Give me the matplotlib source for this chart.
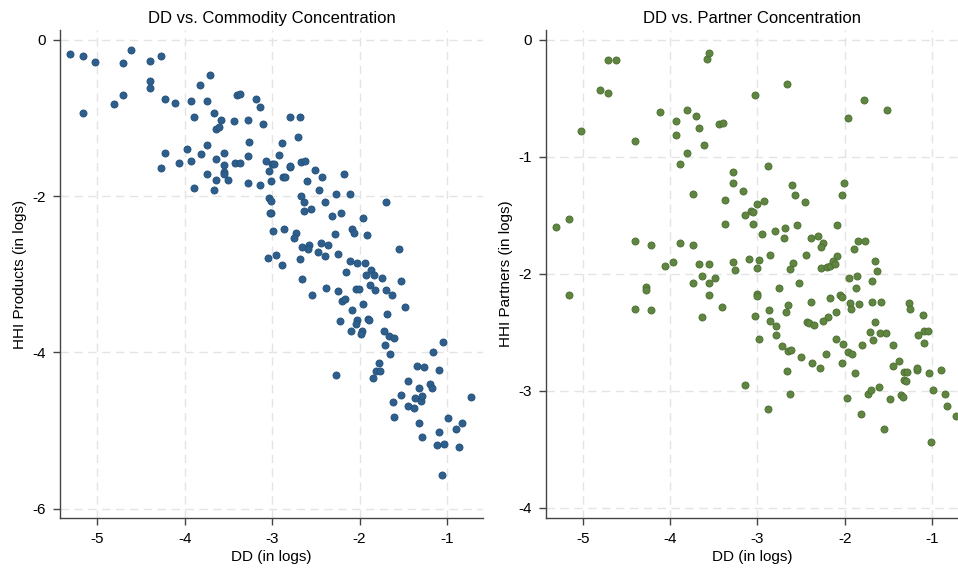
import matplotlib
matplotlib.use("Agg")
import matplotlib.pyplot as plt
import numpy as np

plt.rcParams['font.family'] = ['Liberation Sans', 'DejaVu Sans']
plt.rcParams['axes.unicode_minus'] = False

# left panel: DD vs HHI products
dd_prod = [-5.31, -5.16, -5.03, -4.71, -4.62, -4.40, -4.27, -5.16, -4.81, -4.71,
           -4.40, -4.40, -4.22, -4.11, -3.93, -3.74, -3.82, -3.71, -3.40, -3.37,
           -3.18, -3.14, -3.89, -3.67, -3.58, -3.44, -3.28, -3.10, -3.64, -3.61,
           -3.26, -3.74, -3.97, -4.22, -3.81, -3.55, -3.64, -3.28, -4.07, -3.93,
           -4.27, -3.55, -3.42, -3.37, -3.07, -3.00, -3.03, -3.55, -3.55, -3.74,
           -3.64, -3.50, -3.28, -3.14, -3.01, -3.89, -3.67, -3.03, -3.01,
           -2.79, -2.68, -2.70, -2.89, -2.92, -2.98, -2.80, -2.79, -2.67, -2.62,
           -2.51, -2.43, -2.18, -2.88, -2.85, -2.60, -2.46, -2.27, -2.11, -1.70,
           -2.67, -2.63, -2.39, -3.01, -3.02, -2.63, -2.55, -2.31, -2.21, -1.96,
           -2.99, -2.86, -2.73, -2.75, -2.28, -2.09, -2.06, -1.92, -2.66, -2.58,
           -2.59, -2.44, -2.36, -1.55, -3.05, -2.95, -2.89, -2.68, -2.47, -2.39,
           -2.25, -2.11, -2.03, -1.94, -2.15, -1.93, -1.87, -1.83, -1.74, -2.66,
           -1.52,
           -2.54, -2.38, -2.25, -2.20, -2.17, -2.04, -2.01, -1.88, -1.82, -1.70,
           -1.63, -1.96, -2.09, -1.48, -2.22, -2.03, -2.04, -1.90, -1.89, -1.68,
           -2.10, -1.97, -1.98, -1.72, -1.66, -1.60, -1.71, -1.65, -1.04, -1.16,
           -1.78, -1.81, -1.77, -1.85, -2.27, -1.34, -1.26, -1.09, -1.45, -1.32,
           -1.19, -1.17, -1.53, -1.36, -1.30, -1.28, -1.62, -1.45, -1.38, -0.72,
           -1.60, -0.99, -0.83, -0.90, -1.32, -1.09, -1.29, -1.11, -1.03, -0.86,
           -1.06]
hhi_prod = [-0.18, -0.21, -0.28, -0.29, -0.13, -0.27, -0.20, -0.93, -0.82, -0.70,
            -0.53, -0.62, -0.75, -0.81, -0.78, -0.78, -0.58, -0.45, -0.71, -0.69,
            -0.75, -0.86, -0.99, -0.94, -1.02, -1.04, -1.03, -1.08, -1.14, -1.12,
            -1.31, -1.34, -1.40, -1.45, -1.46, -1.45, -1.52, -1.49, -1.57, -1.55,
            -1.64, -1.60, -1.57, -1.57, -1.55, -1.59, -1.68, -1.69, -1.71, -1.72,
            -1.79, -1.79, -1.83, -1.86, -1.80, -1.89, -1.92, -2.02, -2.06,
            -0.99, -0.99, -1.24, -1.32, -1.47, -1.59, -1.63, -1.61, -1.56, -1.55,
            -1.66, -1.75, -1.72, -1.76, -1.76, -1.80, -1.92, -1.97, -1.97, -2.07,
            -2.00, -2.07, -2.07, -2.21, -2.22, -2.19, -2.17, -2.25, -2.21, -2.28,
            -2.45, -2.42, -2.47, -2.53, -2.49, -2.42, -2.47, -2.50, -2.65, -2.63,
            -2.67, -2.60, -2.62, -2.68, -2.79, -2.75, -2.88, -2.80, -2.72, -2.77,
            -2.74, -2.83, -2.86, -2.85, -2.97, -3.01, -2.95, -3.01, -3.05, -3.06,
            -3.08,
            -3.27, -3.18, -3.21, -3.34, -3.32, -3.19, -3.19, -3.14, -3.20, -3.20,
            -3.26, -3.38, -3.46, -3.42, -3.60, -3.58, -3.63, -3.57, -3.59, -3.51,
            -3.73, -3.72, -3.76, -3.73, -3.79, -3.81, -3.91, -4.02, -3.87, -4.00,
            -4.14, -4.24, -4.24, -4.33, -4.29, -4.18, -4.19, -4.23, -4.37, -4.45,
            -4.41, -4.46, -4.54, -4.59, -4.62, -4.56, -4.63, -4.69, -4.71, -4.57,
            -4.83, -4.84, -4.91, -4.98, -4.90, -5.02, -5.08, -5.19, -5.17, -5.21,
            -5.57]

# right panel: DD vs HHI partners
dd_part = [-5.31, -5.16, -5.02, -4.71, -4.62, -4.80, -4.71, -4.40, -4.11, -3.93,
           -3.93, -3.81, -3.70, -3.67, -3.61, -3.81, -3.89, -3.58, -3.55, -3.44,
           -3.39, -3.03, -3.28, -3.28, -3.17, -3.74, -3.37, -3.07, -3.05, -3.14,
           -3.37, -3.05,
           -2.66, -1.78, -1.52, -1.97, -2.88, -2.60, -2.57, -2.46, -2.01, -2.03,
           -3.01, -2.92,
           -4.40, -4.22, -3.89, -3.74, -4.06, -3.97, -3.67, -3.55, -3.28, -3.26,
           -3.10, -5.16, -4.27, -4.27, -4.40, -4.22, -3.74, -3.64, -3.55, -3.49,
           -3.55, -3.41, -3.64, -3.14,
           -2.95, -2.80, -2.68, -2.55, -2.09, -2.70, -2.39, -2.31, -2.25, -2.27,
           -1.85, -1.77, -1.90, -2.98, -2.86, -3.01, -2.59, -2.63, -2.45, -2.09,
           -2.27, -2.21, -2.17, -2.14, -2.11, -1.66, -1.63, -1.69, -1.95, -1.86,
           -1.87, -2.53, -2.75, -3.01, -3.01, -2.06, -2.03, -2.17, -2.39, -2.65,
           -2.87, -2.67, -3.03, -1.94, -1.93, -1.84, -1.69, -1.59, -1.27, -1.26,
           -1.11, -2.10, -2.19, -2.25, -2.43, -2.41, -2.35, -2.86, -2.79, -2.79,
           -2.98, -1.65, -1.71, -1.60, -1.53, -1.68, -1.80, -2.10, -2.02, -1.96,
           -1.92, -1.45, -1.16, -1.09, -1.05, -1.09, -2.72, -2.65, -2.62, -2.50,
           -2.22, -2.38, -2.28, -2.03, -1.89, -2.66, -1.38, -1.45, -1.32, -1.29,
           -1.18, -1.17, -1.04, -0.90, -1.32, -1.30, -2.63, -2.88, -1.98, -1.74,
           -1.70, -1.61, -1.48, -1.36, -1.34, -0.99, -0.85, -0.83, -0.73, -1.82,
           -1.55, -1.02]
hhi_part = [-1.60, -1.53, -0.78, -0.17, -0.17, -0.43, -0.45, -0.86, -0.62, -0.69,
            -0.81, -0.60, -0.65, -0.75, -0.90, -0.97, -1.06, -0.16, -0.11, -0.72,
            -0.71, -0.47, -1.13, -1.22, -1.29, -1.32, -1.37, -1.46, -1.47, -1.50,
            -1.57, -1.57,
            -0.38, -0.51, -0.60, -0.67, -1.08, -1.24, -1.33, -1.39, -1.22, -1.33,
            -1.40, -1.38,
            -1.72, -1.75, -1.74, -1.75, -1.93, -1.90, -1.92, -1.92, -1.90, -1.97,
            -1.87, -2.18, -2.11, -2.14, -2.30, -2.31, -2.08, -2.02, -2.08, -2.04,
            -2.18, -2.28, -2.37, -2.95,
            -1.66, -1.63, -1.61, -1.58, -1.58, -1.69, -1.69, -1.68, -1.74, -1.77,
            -1.72, -1.72, -1.79, -1.88, -1.84, -1.95, -1.91, -1.96, -1.84, -1.85,
            -1.95, -1.94, -1.93, -1.89, -1.92, -1.89, -1.98, -2.06, -2.04, -2.02,
            -2.12, -2.08, -2.12, -2.17, -2.19, -2.18, -2.20, -2.21, -2.24, -2.27,
            -2.31, -2.33, -2.36, -2.25, -2.30, -2.26, -2.24, -2.24, -2.25, -2.30,
            -2.35, -2.33, -2.37, -2.40, -2.41, -2.42, -2.44, -2.40, -2.45, -2.52,
            -2.56, -2.41, -2.50, -2.51, -2.51, -2.57, -2.61, -2.56, -2.60, -2.67,
            -2.69, -2.61, -2.52, -2.49, -2.49, -2.59, -2.62, -2.66, -2.65, -2.71,
            -2.69, -2.76, -2.81, -2.76, -2.85, -2.83, -2.75, -2.79, -2.84, -2.84,
            -2.82, -2.81, -2.85, -2.82, -2.91, -2.92, -3.03, -3.16, -3.06, -3.03,
            -2.99, -2.97, -3.07, -3.04, -3.05, -2.99, -3.03, -3.13, -3.22, -3.20,
            -3.33, -3.44]

x_ticks = [-5, -4, -3, -2, -1]
prod_ticks = [0, -2, -4, -6]
part_ticks = [0, -1, -2, -3, -4]

fig = plt.figure(figsize=(9.58, 5.70), dpi=100)
ax1 = fig.add_axes([60/958, 52/570, 423/958, 488/570])
ax2 = fig.add_axes([545.7/958, 52/570, 412.3/958, 488/570])


def style_axes(ax, yticks):
    ax.set_xticks(x_ticks)
    ax.set_yticks(yticks)
    ax.grid(True, color='#e4e4e4', linestyle=(0, (6, 4)), linewidth=1.0)
    ax.set_axisbelow(True)
    for s in ['top', 'right']:
        ax.spines[s].set_visible(False)
    for s in ['left', 'bottom']:
        ax.spines[s].set_color('#444444')
        ax.spines[s].set_linewidth(1.0)
    ax.tick_params(direction='out', length=5, width=1, color='#444444',
                   labelsize=11, pad=5)


ax1.scatter(dd_prod, hhi_prod, s=26, color='#2e5e8b', edgecolors='#22507a',
            linewidths=0.6, zorder=3)
style_axes(ax1, prod_ticks)
ax1.set_xlim(-5.427, -0.587)
ax1.set_ylim(-6.12, 0.128)
ax1.set_title('DD vs. Commodity Concentration', fontsize=12, pad=5)
ax1.set_xlabel('DD (in logs)', fontsize=11, labelpad=3)
ax1.set_ylabel('HHI Products (in logs)', fontsize=11, labelpad=4)

ax2.scatter(dd_part, hhi_part, s=26, color='#5f8540', edgecolors='#4c6e31',
            linewidths=0.6, zorder=3)
style_axes(ax2, part_ticks)
ax2.set_xlim(-5.423, -0.706)
ax2.set_ylim(-4.089, 0.0855)
ax2.set_title('DD vs. Partner Concentration', fontsize=12, pad=5)
ax2.set_xlabel('DD (in logs)', fontsize=11, labelpad=3)
ax2.set_ylabel('HHI Partners (in logs)', fontsize=11, labelpad=4)

fig.savefig('out.png', dpi=100)
